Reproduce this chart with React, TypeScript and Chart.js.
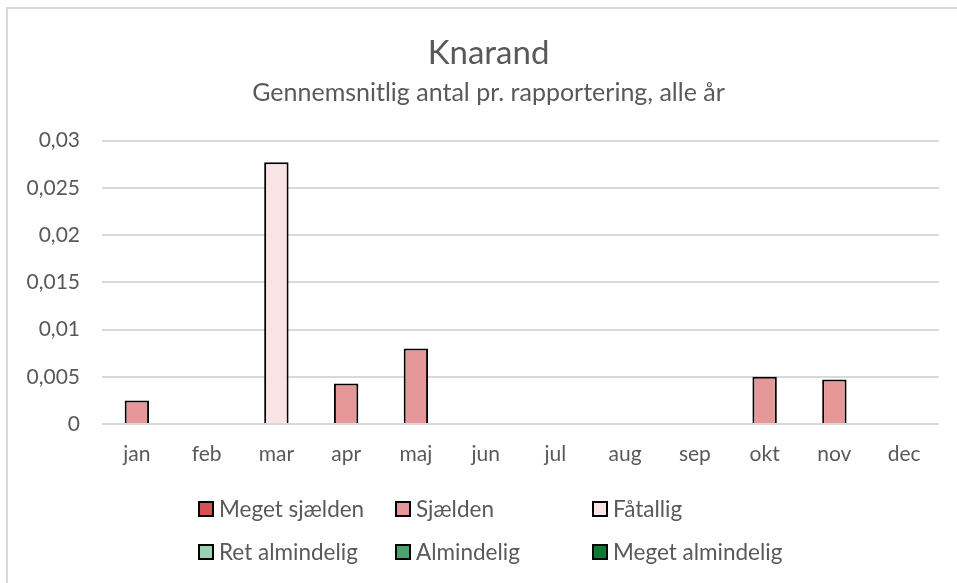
import React, { useEffect, useRef } from "react";
import { Chart, registerables } from "chart.js";

Chart.register(...registerables);

const months = ["jan", "feb", "mar", "apr", "maj", "jun", "jul", "aug", "sep", "okt", "nov", "dec"];
const categoryNames = ["Meget sjælden", "Sjælden", "Fåtallig", "Ret almindelig", "Almindelig", "Meget almindelig"];
const categoryColors = ["#D65252", "#E69797", "#FAE3E5", "#9AD3B4", "#4DA36F", "#0B7A35"];

const megetSjaelden: (number | null)[] = [null, null, null, null, null, null, null, null, null, null, null, null];
const sjaelden: (number | null)[] = [0.0025, null, null, 0.0043, 0.008, null, null, null, null, 0.005, 0.0047, null];
const faatallig: (number | null)[] = [null, null, 0.0277, null, null, null, null, null, null, null, null, null];
const retAlmindelig: (number | null)[] = [null, null, null, null, null, null, null, null, null, null, null, null];
const almindelig: (number | null)[] = [null, null, null, null, null, null, null, null, null, null, null, null];
const megetAlmindelig: (number | null)[] = [null, null, null, null, null, null, null, null, null, null, null, null];

const seriesValues = [megetSjaelden, sjaelden, faatallig, retAlmindelig, almindelig, megetAlmindelig];

const titleText = "Knarand";
const subtitleText = "Gennemsnitlig antal pr. rapportering, alle år";

const FONT = "Lato";
const TEXT = "#595959";

const legendPlugin = {
  id: "gridLegend",
  afterDraw(chart: any) {
    const ctx = chart.ctx;
    const colX = [199, 396, 593];
    const rowY = [509, 552];
    ctx.save();
    ctx.font = `22.5px ${FONT}`;
    ctx.textBaseline = "middle";
    ctx.textAlign = "left";
    chart.data.datasets.forEach((ds: any, i: number) => {
      const x = colX[i % 3];
      const y = rowY[Math.floor(i / 3)];
      ctx.fillStyle = ds.backgroundColor;
      ctx.fillRect(x, y - 7, 14, 14);
      ctx.strokeStyle = "#000";
      ctx.lineWidth = 2;
      ctx.strokeRect(x, y - 7, 14, 14);
      ctx.fillStyle = TEXT;
      ctx.fillText(ds.label, x + 20, y + 1);
    });
    ctx.restore();
  },
};

export default function App() {
  const ref = useRef<HTMLCanvasElement | null>(null);
  useEffect(() => {
    if (!ref.current) return;
    const chart = new Chart(ref.current, {
      type: "bar",
      data: {
        labels: months,
        datasets: categoryNames.map((name, i) => ({
          label: name,
          data: seriesValues[i],
          backgroundColor: categoryColors[i],
          borderColor: "#000000",
          borderWidth: 2,
          categoryPercentage: 1,
          barPercentage: 0.35,
        })),
      },
      options: {
        animation: false,
        responsive: false,
        maintainAspectRatio: false,
        layout: { padding: { left: 20, right: 0, top: 0, bottom: 99 } },
        plugins: {
          legend: { display: false },
          tooltip: { enabled: false },
          title: {
            display: true,
            text: titleText,
            color: TEXT,
            font: { family: FONT, size: 33, weight: "normal" },
            padding: { top: 34, bottom: 0 },
          },
          subtitle: {
            display: true,
            text: subtitleText,
            color: TEXT,
            font: { family: FONT, size: 25, weight: "normal" },
            padding: { top: 4, bottom: 33 },
          },
        },
        scales: {
          x: {
            stacked: true,
            grid: { display: false, drawTicks: false },
            border: { display: false },
            ticks: { color: TEXT, font: { family: FONT, size: 21 }, padding: 18 },
            afterFit: (s: any) => { s.height = 60; },
          },
          y: {
            stacked: true,
            min: 0,
            max: 0.03,
            grid: { color: "#D9D9D9", lineWidth: 2, drawTicks: false },
            border: { display: false },
            ticks: {
              stepSize: 0.005,
              color: TEXT,
              font: { family: FONT, size: 21 },
              padding: 22,
              callback: (v: any) => String(Number(Number(v).toFixed(3))).replace(".", ","),
            },
            afterFit: (s: any) => { s.width = 82; },
          },
          yRightGap: {
            type: "linear",
            position: "right",
            display: true,
            grid: { display: false, drawTicks: false },
            border: { display: false },
            ticks: { display: false },
            afterFit: (s: any) => { s.width = 18; },
          },
        },
      },
      plugins: [legendPlugin],
    });
    return () => chart.destroy();
  }, []);

  return (
    <div style={{ position: "fixed", left: 0, top: 0, width: 957, height: 583, background: "#fff" }}>
      <div style={{ position: "absolute", left: 6, top: 7, right: 0, bottom: 0, borderLeft: "2px solid #D9D9D9", borderTop: "2px solid #D9D9D9" }} />
      <canvas ref={ref} width={957} height={583} style={{ position: "absolute", left: 0, top: 0 }} />
    </div>
  );
}
